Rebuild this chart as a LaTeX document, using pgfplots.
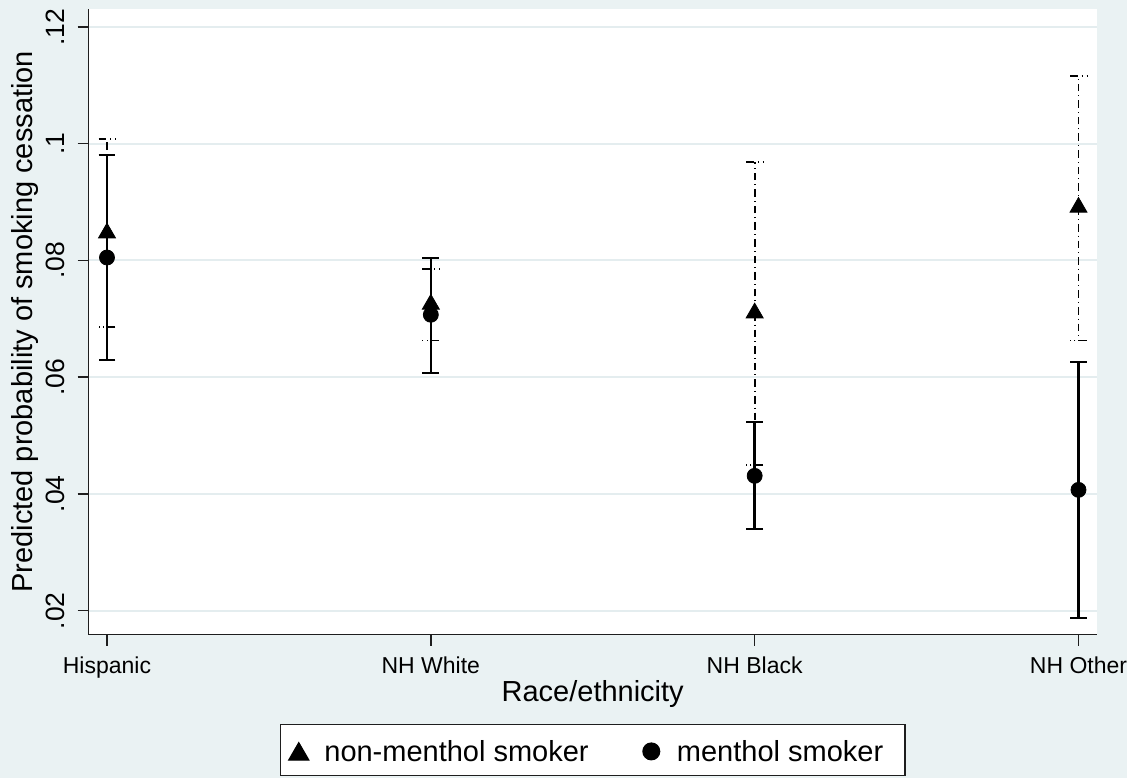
\documentclass[border=0pt]{standalone}
\usepackage{pgfplots}
\pgfplotsset{compat=1.18}
\usepackage{pgfplotstable}
\usepackage{fontspec}
\setmainfont{Liberation Sans}
\definecolor{bgc}{RGB}{234,242,243}
\definecolor{gridc}{RGB}{228,237,239}
\definecolor{axc}{RGB}{30,30,30}

\pgfplotsset{
  trileg/.style={legend image code/.code={\path (-8.85pt,0pt) (12.5pt,0pt); \draw[##1] plot coordinates {(0pt,3.4pt)};}},
  cirleg/.style={legend image code/.code={\path (-8.85pt,0pt) (12.5pt,0pt); \draw[##1] plot coordinates {(0pt,4.85pt)};}},
}

\pgfplotstableread{
x y lo hi
0 0.0847 0.0686 0.1008
1 0.0725 0.0663 0.0785
2 0.0710 0.0449 0.0968
3 0.0891 0.0663 0.1116
}\nonmenthol
\pgfplotstableread{
x y lo hi
0 0.0805 0.0630 0.0981
1 0.0707 0.0607 0.0804
2 0.0431 0.0340 0.0523
3 0.0407 0.0188 0.0626
}\menthol

\begin{document}
\begin{tikzpicture}
\useasboundingbox (0,0) rectangle (571pt,389pt);
\fill[bgc] (0,0) rectangle (563.5pt,389pt);
\begin{axis}[
  at={(44.35pt,71.75pt)}, anchor=south west,
  scale only axis, width=504pt, height=312.75pt,
  xmin=-0.0565, xmax=3.0562, ymin=0.01592, ymax=0.12308,
  axis background/.style={fill=white},
  axis x line*=bottom, axis y line*=left,
  axis line style={axc, line width=0.75pt},
  tick align=outside, major tick length=5.5pt,
  tick style={axc, line width=0.75pt},
  xtick={0,1,2,3}, xticklabels={Hispanic,NH White,NH Black,NH Other},
  ytick={0.02,0.04,0.06,0.08,0.1,0.12}, yticklabels={.02,.04,.06,.08,.1,.12},
  ymajorgrids, grid style={gridc, line width=1pt},
  xticklabel style={font=\fontsize{11.5pt}{13pt}\selectfont, yshift=-5.25pt, anchor=north, inner sep=0pt},
  yticklabel style={font=\fontsize{13.25pt}{15pt}\selectfont, xshift=-6.35pt, rotate=90, anchor=south, inner sep=0pt},
  xlabel={Race/ethnicity}, ylabel={Predicted probability of smoking cessation},
  every axis x label/.style={at={(axis description cs:0.5,-0.10632)}, anchor=base, font=\fontsize{14.5pt}{17pt}\selectfont},
  every axis y label/.style={at={(axis description cs:-0.05575,0.5)}, rotate=90, anchor=base, font=\fontsize{14.5pt}{17pt}\selectfont},
  legend style={at={(axis description cs:0.5,-0.22622)}, anchor=south, fill=white, draw=axc, line width=0.6pt,
    inner sep=0pt, font=\fontsize{14.5pt}{17pt}\selectfont,
    nodes={text height=18.35pt, text depth=7.15pt, inner sep=0pt},
    cells={anchor=base west, text height=18.35pt, text depth=7.15pt, inner sep=0pt},
    /tikz/every even column/.append style={column sep=22.15pt}},
  legend columns=2,
]
\addplot[only marks, mark=triangle*, mark size=4.9pt, black, forget plot,
  error bars/.cd, y dir=both, y explicit, error mark=|,
  error bar style={line width=0.9pt, dash pattern=on 3.8pt off 2pt on 0.5pt off 2pt, black},
  error mark options={black, line width=0.9pt, mark size=4.2pt, dash pattern=on 3.8pt off 2pt on 0.5pt off 2pt}]
  table[x=x, y=y, y error plus expr=\thisrow{hi}-\thisrow{y}, y error minus expr=\thisrow{y}-\thisrow{lo}] {\nonmenthol};
\addplot[only marks, mark=*, mark size=3.75pt, black, forget plot,
  error bars/.cd, y dir=both, y explicit, error mark=|,
  error bar style={line width=1.2pt, black, solid},
  error mark options={black, line width=1.1pt, mark size=4.2pt, solid}]
  table[x=x, y=y, y error plus expr=\thisrow{hi}-\thisrow{y}, y error minus expr=\thisrow{y}-\thisrow{lo}] {\menthol};
\addlegendimage{only marks, mark=triangle*, mark size=5.8pt, black, trileg}
\addlegendentry{non-menthol smoker}
\addlegendimage{only marks, mark=*, mark size=4.2pt, black, cirleg}
\addlegendentry{menthol smoker\hspace*{10.85pt}}
\end{axis}
\end{tikzpicture}
\end{document}
